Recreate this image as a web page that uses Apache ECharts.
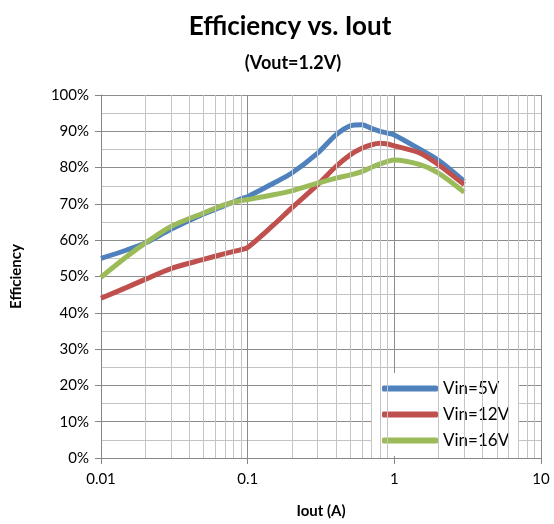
<!DOCTYPE html>
<html><head><meta charset="utf-8">
<script src="https://cdn.jsdelivr.net/npm/echarts@6/dist/echarts.min.js"></script>
<style>html,body{margin:0;padding:0;background:#fff}#c{width:554px;height:524px}</style>
</head><body><div id="c"></div>
<script>
const iout  = [0.01, 0.015, 0.02, 0.03, 0.05, 0.07, 0.09, 0.1, 0.15, 0.2, 0.3, 0.4, 0.5, 0.6, 0.7, 0.8, 0.9, 1, 1.5, 2, 3];
const vin5  = [55.0, 57.3, 59.2, 63.0, 67.2, 69.6, 71.4, 72.0, 75.7, 78.5, 84.0, 89.0, 91.5, 91.8, 90.8, 90.0, 89.5, 89.0, 85.0, 82.0, 76.2];
const vin12 = [44.0, 47.0, 49.2, 52.2, 54.7, 56.3, 57.4, 58.0, 64.2, 68.9, 75.3, 80.3, 83.5, 85.3, 86.3, 86.7, 86.5, 86.0, 84.0, 80.8, 75.3];
const vin16 = [49.8, 55.5, 59.2, 63.8, 67.5, 69.8, 70.9, 71.2, 72.5, 73.6, 75.7, 77.1, 78.0, 78.9, 80.1, 81.0, 81.7, 82.1, 80.8, 78.5, 73.2];
const seriesNames = ['Vin=5V', 'Vin=12V', 'Vin=16V'];
const minorGridX = [0.02,0.03,0.04,0.05,0.06,0.07,0.08,0.09,0.2,0.3,0.4,0.5,0.6,0.7,0.8,0.9,2,3,4,5,6,7,8,9];

const FONT = 'Lato, "Open Sans", sans-serif';
const colors = ['#4F81BD', '#C0504D', '#9BBB59'];
const pair = (xs, ys) => xs.map((x, i) => [x, ys[i]]);

const chart = echarts.init(document.getElementById('c'), null, {renderer: 'canvas'});
chart.setOption({
  animation: false,
  textStyle: {fontFamily: FONT},
  title: [
    {text: 'Efficiency vs. Iout', left: 285, textAlign: 'center', top: 9,
     textStyle: {fontFamily: FONT, fontWeight: 'bold', fontSize: 26, color: '#000'}},
    {text: '(Vout=1.2V)', left: 288, textAlign: 'center', top: 49,
     textStyle: {fontFamily: FONT, fontWeight: 'bold', fontSize: 18, color: '#000'}}
  ],
  legend: {
    data: seriesNames, orient: 'vertical', left: 372, top: 373,
    backgroundColor: '#fff', padding: [7, 10, 7, 10], itemGap: 9,
    icon: 'roundRect', itemWidth: 56, itemHeight: 6,
    textStyle: {fontFamily: FONT, fontSize: 17, color: '#000'}
  },
  grid: {left: 101, right: 13, top: 95, bottom: 65, containLabel: false},
  xAxis: {
    type: 'log', logBase: 10, min: 0.01, max: 10,
    name: 'Iout (A)', nameLocation: 'middle', nameGap: 46,
    nameTextStyle: {fontFamily: FONT, fontWeight: 'bold', fontSize: 15, color: '#000'},
    axisLine: {show: true, lineStyle: {color: '#868686', width: 1}},
    axisTick: {show: true, length: 6, lineStyle: {color: '#868686'}},
    axisLabel: {fontFamily: FONT, fontSize: 15, color: '#000', margin: 14,
      formatter: v => String(+v.toPrecision(3))},
    splitLine: {show: true, lineStyle: {color: '#8c8c8c', width: 1}},
    minorTick: {show: false}, minorSplitLine: {show: false}
  },
  yAxis: {
    type: 'value', min: 0, max: 100, interval: 10,
    name: 'Efficiency', nameLocation: 'middle', nameGap: 77, nameRotate: 90,
    nameTextStyle: {fontFamily: FONT, fontWeight: 'bold', fontSize: 15, color: '#000'},
    axisLine: {show: true, lineStyle: {color: '#868686', width: 1}},
    axisTick: {show: true, length: 6, lineStyle: {color: '#868686'}},
    axisLabel: {fontFamily: FONT, fontSize: 15, color: '#000', margin: 12,
      formatter: v => v + '%'},
    splitLine: {show: true, lineStyle: {color: '#8c8c8c', width: 1}},
    minorTick: {show: false, splitNumber: 2},
    minorSplitLine: {show: true, lineStyle: {color: '#c4c4c4', width: 1}}
  },
  series: [
    {type: 'line', name: '_grid', data: [], silent: true, z: 1,
     markLine: {silent: true, symbol: ['none', 'none'], label: {show: false},
       lineStyle: {color: '#c4c4c4', width: 1, type: 'solid'},
       data: minorGridX.map(v => ({xAxis: v}))}},
    {type: 'line', name: seriesNames[0], data: pair(iout, vin5), smooth: 0.3, showSymbol: false, z: 3,
     lineStyle: {width: 5, color: colors[0]}, itemStyle: {color: colors[0]}},
    {type: 'line', name: seriesNames[1], data: pair(iout, vin12), smooth: 0.3, showSymbol: false, z: 3,
     lineStyle: {width: 5, color: colors[1]}, itemStyle: {color: colors[1]}},
    {type: 'line', name: seriesNames[2], data: pair(iout, vin16), smooth: 0.3, showSymbol: false, z: 3,
     lineStyle: {width: 5, color: colors[2]}, itemStyle: {color: colors[2]}}
  ]
});
</script></body></html>
